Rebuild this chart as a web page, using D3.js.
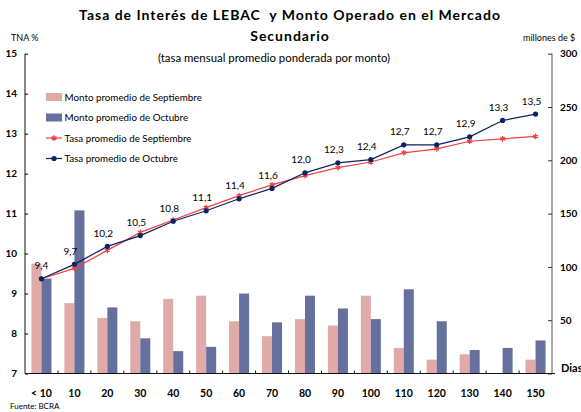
<!DOCTYPE html>
<html>
<head>
<meta charset="utf-8">
<script src="https://cdn.jsdelivr.net/npm/d3@7"></script>
<style>
  body { margin: 0; background: #fff; }
  svg { font-family: Lato, "Open Sans", sans-serif; }
</style>
</head>
<body>
<svg width="581" height="412"></svg>
<script>
var categories = ["< 10","10","20","30","40","50","60","70","80","90","100","110","120","130","140","150"];
var montoSep = [103, 66, 52, 49, 70, 73, 49, 35, 51, 45, 73, 24, 13, 18, 0, 13];
var montoOct = [89, 153, 62, 33, 21, 25, 75, 48, 73, 61, 51, 79, 49, 22, 24, 31];
var tasaSep = [9.37, 9.63, 10.08, 10.53, 10.84, 11.15, 11.45, 11.72, 11.95, 12.15, 12.29, 12.52, 12.62, 12.81, 12.87, 12.93];
var tasaOct = [9.37, 9.73, 10.18, 10.45, 10.81, 11.07, 11.37, 11.63, 12.02, 12.27, 12.35, 12.72, 12.72, 12.92, 13.33, 13.49];
var tasaOctLabels = ["9,4","9,7","10,2","10,5","10,8","11,1","11,4","11,6","12,0","12,3","12,4","12,7","12,7","12,9","13,3","13,5"];
var leftTicks = [7, 8, 9, 10, 11, 12, 13, 14, 15];
var rightTicks = [0, 50, 100, 150, 200, 250, 300];

var colSep = "#e0aaa9", colOct = "#66709c";
var lineSep = "#f04040", lineOct = "#0d2262";

var svg = d3.select("svg");
var mLeft = 25, mRight = 552, mTop = 53.7, mBottom = 373.5;

var x = d3.scaleBand().domain(categories).range([mLeft, mRight]);
var xSub = d3.scaleBand().domain(["sep", "oct"]).range([0, x.bandwidth()]).paddingOuter(0.645);
var yL = d3.scaleLinear().domain([7, 15]).range([mBottom, mTop]);
var yR = d3.scaleLinear().domain([0, 300]).range([mBottom, mTop]);

// title
svg.append("text").attr("x", 290).attr("y", 20).attr("text-anchor", "middle")
    .attr("font-size", 14).attr("font-weight", "bold").attr("letter-spacing", 1)
    .style("white-space", "pre")
    .text("Tasa de Interés de LEBAC  y Monto Operado en el Mercado");
svg.append("text").attr("x", 290).attr("y", 41).attr("text-anchor", "middle")
    .attr("font-size", 14).attr("font-weight", "bold").attr("letter-spacing", 1).text("Secundario");
svg.append("text").attr("x", 274).attr("y", 62).attr("text-anchor", "middle")
    .attr("font-size", 11.4).text("(tasa mensual promedio ponderada por monto)");

svg.append("text").attr("x", 11).attr("y", 41).attr("font-size", 9).text("TNA %");
svg.append("text").attr("x", 523).attr("y", 41).attr("font-size", 9).text("millones de $");
svg.append("text").attr("x", 10).attr("y", 409).attr("font-size", 8).text("Fuente: BCRA");
svg.append("text").attr("x", 561).attr("y", 372).attr("font-size", 11).attr("font-weight", "bold").text("Dias");

// bars
var bars = svg.append("g");
categories.forEach(function(c, i) {
  [["sep", montoSep[i], colSep], ["oct", montoOct[i], colOct]].forEach(function(s) {
    if (s[1] <= 0) return;
    bars.append("rect")
        .attr("x", x(c) + xSub(s[0]))
        .attr("width", xSub.bandwidth())
        .attr("y", yR(s[1]))
        .attr("height", mBottom - yR(s[1]))
        .attr("fill", s[2]);
  });
});

// axes
var axL = d3.axisLeft(yL).tickValues(leftTicks).tickSize(-3).tickPadding(8);
var gL = svg.append("g").attr("transform", "translate(" + mLeft + ",0)").call(axL);
gL.select(".domain").attr("d", "M0," + mTop + "V" + mBottom).attr("stroke", "#111");
gL.selectAll("text").attr("font-size", 10).attr("font-weight", "bold").attr("font-family", "Lato, sans-serif");

var axR = d3.axisRight(yR).tickValues(rightTicks).tickSize(-4).tickPadding(8)
    .tickFormat(function(d) { return d === 0 ? "" : d; });
var gR = svg.append("g").attr("transform", "translate(" + mRight + ",0)").call(axR);
gR.select(".domain").attr("d", "M0," + mTop + "V" + mBottom).attr("stroke", "#555");
gR.selectAll("line").attr("stroke", "#333");
gR.selectAll("text").attr("font-size", 10).attr("font-weight", "bold").attr("font-family", "Lato, sans-serif");

var gB = svg.append("g").attr("transform", "translate(0," + mBottom + ")");
gB.append("line").attr("x1", mLeft).attr("x2", mRight + 3).attr("stroke", "#111");
gB.selectAll(".tk").data(categories.slice(1)).enter().append("line")
    .attr("x1", function(d) { return x(d); }).attr("x2", function(d) { return x(d); })
    .attr("y1", 0).attr("y2", -3).attr("stroke", "#111");
gB.selectAll(".lb").data(categories).enter().append("text")
    .attr("x", function(d) { return x(d) + x.bandwidth() / 2; })
    .attr("y", 23).attr("text-anchor", "middle")
    .attr("font-size", 10.5).attr("font-weight", "bold").text(function(d) { return d; });

// lines
var cx = function(d, i) { return x(categories[i]) + x.bandwidth() / 2; };
var lineL = d3.line().x(cx).y(function(d) { return yL(d); });

svg.append("path").datum(tasaSep).attr("d", lineL).attr("fill", "none")
    .attr("stroke", lineSep).attr("stroke-width", 1.2);
svg.append("path").datum(tasaOct).attr("d", lineL).attr("fill", "none")
    .attr("stroke", lineOct).attr("stroke-width", 1.2);

var star = d3.symbol().type(d3.symbolAsterisk).size(22);
svg.append("g").selectAll("path").data(tasaSep).enter().append("path")
    .attr("d", star)
    .attr("transform", function(d, i) { return "translate(" + cx(d, i) + "," + yL(d) + ")"; })
    .attr("stroke", lineSep).attr("stroke-width", 1.3).attr("fill", "none");

svg.append("g").selectAll("circle").data(tasaOct).enter().append("circle")
    .attr("cx", cx).attr("cy", function(d) { return yL(d); })
    .attr("r", 2.6).attr("fill", lineOct);

// value labels, the first one sits straight above its point
svg.append("g").selectAll("text").data(tasaOct).enter().append("text")
    .attr("x", function(d, i) { return cx(d, i) - (i === 0 ? 0 : 4); })
    .attr("y", function(d) { return yL(d) - 9.5; })
    .attr("text-anchor", "middle").attr("font-size", 10)
    .text(function(d, i) { return tasaOctLabels[i]; });

// legend
var legend = svg.append("g").attr("transform", "translate(46,97)");
var legItems = [
  {label: "Monto promedio de Septiembre", type: "bar", color: colSep},
  {label: "Monto promedio de Octubre", type: "bar", color: colOct},
  {label: "Tasa promedio de Septiembre", type: "sep", color: lineSep},
  {label: "Tasa promedio de Octubre", type: "oct", color: lineOct}
];
legItems.forEach(function(it, i) {
  var g = legend.append("g").attr("transform", "translate(0," + (i * 20.5) + ")");
  if (it.type === "bar") {
    g.append("rect").attr("x", 0).attr("y", -4).attr("width", 16).attr("height", 8).attr("fill", it.color);
  } else {
    g.append("line").attr("x1", 0).attr("x2", 16).attr("stroke", it.color).attr("stroke-width", 1.2);
    if (it.type === "sep") {
      g.append("path").attr("d", star).attr("transform", "translate(8,0)")
          .attr("stroke", it.color).attr("stroke-width", 1.3).attr("fill", "none");
    } else {
      g.append("circle").attr("cx", 8).attr("r", 2.6).attr("fill", it.color);
    }
  }
  g.append("text").attr("x", 18.5).attr("y", 3.8).attr("font-size", 9.8).text(it.label);
});
</script>
</body>
</html>
